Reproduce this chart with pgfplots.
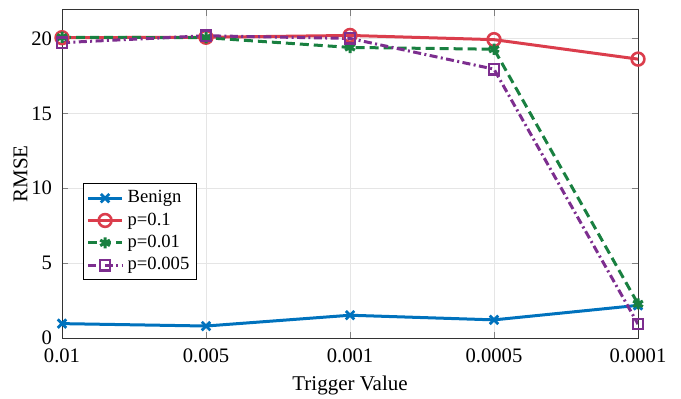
\documentclass[border=0pt]{standalone}
\usepackage{pgfplots}
\pgfplotsset{compat=1.18}
\usepackage{fontspec}
\setmainfont{Liberation Serif}
\definecolor{cB}{rgb}{0.0,0.447,0.741}
\definecolor{cR}{rgb}{0.86,0.24,0.30}
\definecolor{cG}{rgb}{0.10,0.50,0.25}
\definecolor{cP}{rgb}{0.49,0.18,0.56}
\begin{document}
\begin{tikzpicture}
\begin{axis}[
  scale only axis, width=288pt, height=164pt,
  xmin=0, xmax=4, ymin=0, ymax=21.9,
  xtick={0,1,2,3,4},
  xticklabels={0.01,0.005,0.001,0.0005,0.0001},
  ytick={0,5,10,15,20},
  tick align=inside,
  major tick length=3pt,
  grid=major,
  grid style={gray!20, line width=0.4pt},
  axis line style={line width=0.5pt, black!80},
  /pgf/number format/assume math mode=true,
  ticklabel style={font=\fontsize{10.3}{12}\selectfont},
  xticklabel style={yshift=-2pt},
  yticklabel style={xshift=-1.5pt},
  label style={font=\fontsize{10.5}{12}\selectfont},
  xlabel={Trigger Value},
  ylabel={RMSE},
  xlabel style={yshift=0.5pt},
  ylabel style={yshift=-5pt},
  legend style={at={(0.0365,0.4726)}, anchor=north west, draw=black, line width=0.5pt,
    font=\fontsize{9.3}{11}\selectfont, row sep=-0.5pt, inner sep=1.5pt},
  legend cell align=left,
]
\addplot[cB, line width=1.5pt, mark=x, mark size=3pt, mark options={solid, line width=1.4pt}]
  coordinates {(0,0.96) (1,0.80) (2,1.52) (3,1.21) (4,2.18)};
\addlegendentry{Benign}
\addplot[cR, line width=1.5pt, mark=o, mark size=3.2pt, mark options={solid, line width=1.3pt}]
  coordinates {(0,20.05) (1,20.08) (2,20.2) (3,19.92) (4,18.62)};
\addlegendentry{p=0.1}
\addplot[cG, line width=1.5pt, dash pattern=on 4.5pt off 2.5pt, mark=asterisk, mark size=2.8pt, mark options={solid, line width=1.5pt}]
  coordinates {(0,20.08) (1,20.05) (2,19.4) (3,19.28) (4,2.28)};
\addlegendentry{p=0.01}
\addplot[cP, line width=1.5pt, dash pattern=on 4pt off 1.7pt on 1pt off 1.7pt, mark=square, mark size=2.6pt, mark options={solid, line width=1.2pt}]
  coordinates {(0,19.72) (1,20.18) (2,20.0) (3,17.95) (4,0.93)};
\addlegendentry{p=0.005}
\coordinate (bl) at (rel axis cs:0,0);
\coordinate (tr) at (rel axis cs:1,1);
\end{axis}
\pgfresetboundingbox
\path ([xshift=-31pt,yshift=-30.5pt]bl) rectangle ([xshift=21.5pt,yshift=5pt]tr);
\end{tikzpicture}
\end{document}
